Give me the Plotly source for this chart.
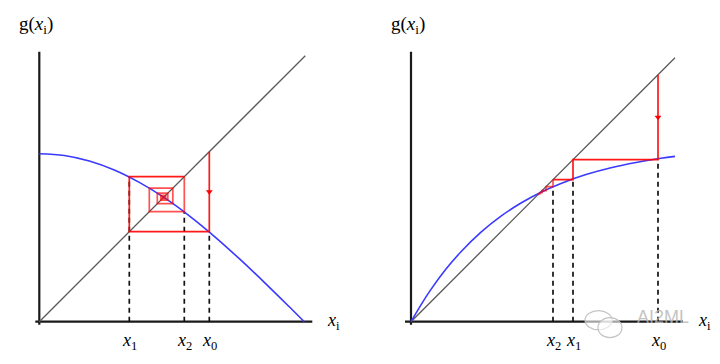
import plotly.graph_objects as go
from plotly.subplots import make_subplots

# ---------------- data ----------------
# left panel: decreasing g(x), oscillating convergence
left_curve_x = [0.0, 0.25, 0.5, 0.75, 1.0, 1.25, 1.5, 1.75, 2.0, 2.25, 2.5, 2.65]
left_curve_g = [1.68, 1.662, 1.607, 1.517, 1.393, 1.240, 1.059, 0.854, 0.630, 0.394, 0.149, 0.0]
left_iterates = [1.70, 0.90, 1.45, 1.10, 1.335, 1.18, 1.285, 1.215, 1.263, 1.231,
                 1.252, 1.238, 1.247, 1.241, 1.245]
label_order = [0, 1, 2]

# right panel: increasing concave g(x), monotone convergence
right_curve_x = [0.0, 0.1, 0.2, 0.35, 0.5, 0.7, 0.9, 1.1, 1.3, 1.5, 1.75, 2.0, 2.25, 2.5, 2.64]
right_curve_g = [0.0, 0.169, 0.323, 0.526, 0.700, 0.896, 1.056, 1.187, 1.295, 1.383,
                 1.471, 1.539, 1.592, 1.634, 1.653]
right_iterates = [2.47, 1.62, 1.42, 1.35, 1.31, 1.29, 1.28, 1.275, 1.272]

diag_end = [2.66, 2.64]          # end of y = x line in each panel
axis_x_end = [2.73, 2.72]
axis_x_start = [-0.04, -0.06]
axis_y_top = 2.70

RED = "rgba(255,0,0,0.9)"
RED_LIGHT = "rgba(255,0,0,0.68)"
BLUE = "#3a3aff"
FONT = "Liberation Serif"

fig = make_subplots(rows=1, cols=2, horizontal_spacing=0)


def cobweb(its, start, stop):
    xs, ys = [], []
    for k in range(start, stop):
        xs += [its[k], its[k], its[k + 1]]
        ys += [its[k], its[k + 1], its[k + 1]]
    return xs, ys


panels = [
    (1, left_curve_x, left_curve_g, left_iterates),
    (2, right_curve_x, right_curve_g, right_iterates),
]

for col, cx, cg, its in panels:
    i = col - 1
    # axes lines
    fig.add_trace(go.Scatter(x=[axis_x_start[i], axis_x_end[i]], y=[0, 0], mode="lines",
                             line=dict(color="#1a1a1a", width=2.2), hoverinfo="skip"), row=1, col=col)
    fig.add_trace(go.Scatter(x=[0, 0], y=[-0.03, axis_y_top], mode="lines",
                             line=dict(color="#1a1a1a", width=2.2), hoverinfo="skip"), row=1, col=col)
    # diagonal
    fig.add_trace(go.Scatter(x=[0, diag_end[i]], y=[0, diag_end[i]], mode="lines",
                             line=dict(color="#5a5a5a", width=1.3), hoverinfo="skip"), row=1, col=col)
    # dashed drop lines
    for k in label_order:
        fig.add_trace(go.Scatter(x=[its[k], its[k]], y=[0, its[k + 1]], mode="lines",
                                 line=dict(color="#111111", width=1.7, dash="5px,4px"),
                                 hoverinfo="skip"), row=1, col=col)
    # curve
    fig.add_trace(go.Scatter(x=cx, y=cg, mode="lines", line=dict(color=BLUE, width=1.6, shape="spline"),
                             hoverinfo="skip"), row=1, col=col)
    # cobweb: first steps bright, later ones lighter
    wx, wy = cobweb(its, 2, len(its) - 1)
    fig.add_trace(go.Scatter(x=wx, y=wy, mode="lines", line=dict(color=RED_LIGHT, width=1.7),
                             hoverinfo="skip"), row=1, col=col)
    wx, wy = cobweb(its, 0, 2)
    fig.add_trace(go.Scatter(x=wx, y=wy, mode="lines", line=dict(color=RED, width=1.7),
                             hoverinfo="skip"), row=1, col=col)
    # arrow head on first vertical segment
    fig.add_trace(go.Scatter(x=[its[0]], y=[(its[0] + its[1]) / 2], mode="markers",
                             marker=dict(symbol="triangle-down", size=6, color="red"),
                             hoverinfo="skip"), row=1, col=col)
    xref = "x" if col == 1 else "x2"
    yref = "y" if col == 1 else "y2"
    # tick labels x0,x1,x2
    for k in label_order:
        fig.add_annotation(x=its[k], y=-0.195, xref=xref, yref=yref, showarrow=False,
                           text=f"<i>x</i><sub>{k}</sub>", font=dict(family=FONT, size=18, color="black"))
    # axis names
    fig.add_annotation(x=axis_x_end[i] + 0.21, y=0.0, xref=xref, yref=yref, showarrow=False,
                       text="<i>x</i><sub>i</sub>", font=dict(family=FONT, size=18, color="black"))
    fig.add_annotation(x=-0.03, y=2.97, xref=xref, yref=yref, showarrow=False,
                       text="g(<i>x</i><sub>i</sub>)", font=dict(family=FONT, size=19, color="black"))

# watermark
fig.add_shape(type="circle", xref="x2", yref="y2", x0=1.74, x1=2.01, y0=-0.08, y1=0.11,
              line=dict(color="rgba(190,190,190,0.9)", width=1.2), fillcolor="rgba(255,255,255,0.6)")
fig.add_shape(type="circle", xref="x2", yref="y2", x0=1.87, x1=2.11, y0=-0.16, y1=0.04,
              line=dict(color="rgba(190,190,190,0.9)", width=1.2), fillcolor="rgba(255,255,255,0.6)")
fig.add_annotation(x=2.52, y=0.05, xref="x2", yref="y2", showarrow=False, text="AI2ML",
                   font=dict(family="Liberation Sans", size=18, color="rgba(185,185,185,0.85)"))

fig.update_xaxes(visible=False, showgrid=False, zeroline=False)
fig.update_yaxes(visible=False, showgrid=False, zeroline=False)
fig.update_layout(
    xaxis=dict(domain=[0, 0.5], range=[-0.393, 3.207]),
    xaxis2=dict(domain=[0.5, 1.0], range=[-0.51, 3.09]),
    yaxis=dict(domain=[0, 1], range=[-0.423, 3.217]),
    yaxis2=dict(domain=[0, 1], range=[-0.423, 3.217]),
    width=720, height=364, margin=dict(l=0, r=0, t=0, b=0),
    plot_bgcolor="white", paper_bgcolor="white", showlegend=False,
)

fig.write_html("out.html")
